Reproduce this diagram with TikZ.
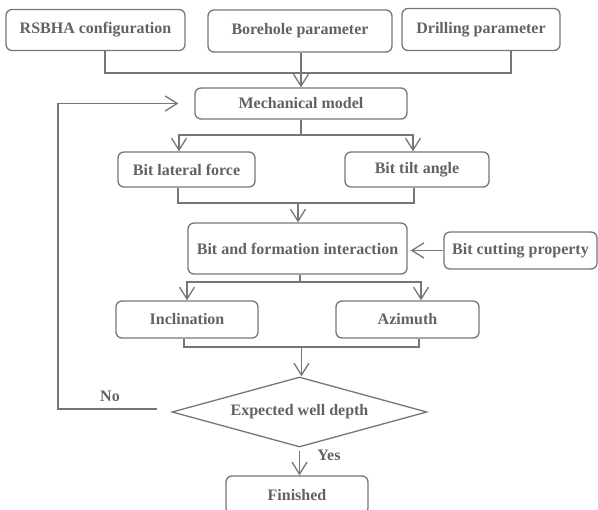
\documentclass[tikz,border=0pt]{standalone}
\usepackage{fontspec}
\setmainfont{Liberation Serif}
\usetikzlibrary{arrows.meta,shapes.geometric,calc}
\definecolor{ln}{RGB}{118,118,118}
\definecolor{tx}{RGB}{98,98,98}
\begin{document}
\begin{tikzpicture}[x=1pt,y=-1pt,
  txt/.style={text=tx,font=\bfseries\fontsize{16}{19}\selectfont},
  box/.style={txt,draw=ln,line width=1.3pt,rounded corners=6pt,inner sep=0pt,anchor=center},
  conn/.style={draw=ln,line width=1.3pt},
  arr/.style={conn,-{Straight Barb[length=12pt,width=15pt]}}]
\useasboundingbox (0,0) rectangle (598,510);
% nodes
\node[box,minimum width=179pt,minimum height=41pt] (rsbha) at (95.5,30) {RSBHA configuration};
\node[box,minimum width=184pt,minimum height=42pt] (bore) at (300,31) {Borehole parameter};
\node[box,minimum width=158pt,minimum height=42pt] (drill) at (481,29.5) {Drilling parameter};
\node[box,minimum width=212pt,minimum height=31pt] (mech) at (301,103.5) {Mechanical model};
\node[box,minimum width=137pt,minimum height=35pt] (lat) at (186.5,169.5) {Bit lateral force};
\node[box,minimum width=144pt,minimum height=35pt] (tilt) at (417,169.5) {Bit tilt angle};
\node[box,minimum width=219pt,minimum height=51pt] (inter) at (297.5,248.5) {Bit and formation interaction};
\node[box,minimum width=153pt,minimum height=37pt] (cut) at (520.5,250.5) {Bit cutting property};
\node[box,minimum width=142pt,minimum height=37pt] (incl) at (187,319.5) {Inclination};
\node[box,minimum width=143pt,minimum height=37pt] (azi) at (407.5,319.5) {Azimuth};
\node[txt,draw=ln,line width=1.3pt,diamond,aspect=3.6,minimum width=255pt,minimum height=70pt,inner sep=0pt] (dia) at (299.5,412) {Expected well depth};
\node[box,minimum width=142pt,minimum height=38pt] (fin) at (297,495) {Finished};
\node[txt] (no) at (110,396) {No};
\node[txt] (yes) at (329,455) {Yes};
% coordinates
\coordinate (j1) at (301,73);
\coordinate (s1) at (301,135);
\coordinate (m1) at (298,203);
\coordinate (s2) at (300,282);
\coordinate (m2) at (301.5,347);
\coordinate (fb) at (58,409);
% connectors
\draw[conn] ([xshift=9.5pt]rsbha.south) |- (j1) -| ([xshift=30pt]drill.south);
\draw[arr] (bore.south -| j1) -- (j1 |- mech.north);
\draw[conn] (s1 |- mech.south) -- (s1);
\draw[arr] (s1) -| ([xshift=-7.5pt]lat.north);
\draw[arr] (s1) -| ([xshift=-4pt]tilt.north);
\draw[conn] ([xshift=-8.5pt]lat.south) |- (m1) -| ([xshift=-3pt]tilt.south);
\draw[arr] (m1) -- (m1 |- inter.north);
\draw[arr,shorten >=3pt] (cut.west) -- (cut.west -| inter.east);
\draw[conn] (s2 |- inter.south) -- (s2);
\draw[arr] (s2) -| (incl.north);
\draw[arr] (s2) -| ([xshift=13.5pt]azi.north);
\draw[conn] ([xshift=-3pt]incl.south) |- (m2) -| ([xshift=11.5pt]azi.south);
\draw[arr] (m2) -- (m2 |- dia.north);
\draw[arr,shorten <=3pt] (dia.south) -- (dia.south |- fin.north);
\draw[arr,shorten <=14pt,shorten >=16pt] (dia.west |- fb) -- (fb) |- (mech.west);
\end{tikzpicture}
\end{document}
